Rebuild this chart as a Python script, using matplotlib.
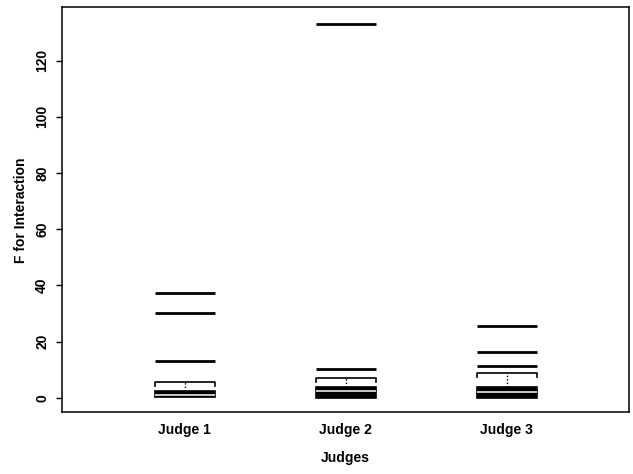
import numpy as np
import matplotlib.pyplot as plt

plt.rcParams['font.family'] = ['Liberation Sans', 'DejaVu Sans']
plt.rcParams['font.weight'] = 'bold'

# box summaries of the interaction F statistic for each judge
judges = ['Judge 1', 'Judge 2', 'Judge 3']
q1 = [0.1, 0.0, 0.0]
medians = [1.0, 2.4, 2.1]
q3 = [2.5, 3.9, 3.7]
upper_whisker = [5.6, 7.0, 8.9]
outliers = [
    [13.2, 30.0, 37.2],
    [10.4, 133.1],
    [11.3, 16.2, 25.6],
]

fig = plt.figure(figsize=(6.33, 4.74), dpi=100)
ax = fig.add_axes([0.0975, 0.130, 0.896, 0.8546])

pos = np.arange(1, len(judges) + 1)
hw = 0.186   # half box width
leg = 1.4    # bracket leg length

for x, a, m, b, hi, out in zip(pos, q1, medians, q3, upper_whisker, outliers):
    ax.bar(x, b - a, bottom=a, width=2 * hw, color='black',
           edgecolor='black', linewidth=1.2, zorder=2)
    ax.hlines(m, x - hw, x + hw, color='white', lw=1.1, zorder=3)
    ax.vlines(x, b, hi, color='black', lw=1.0, linestyles=(0, (1, 1.5)), zorder=2)
    ax.plot([x - hw, x - hw, x + hw, x + hw], [hi - leg, hi, hi, hi - leg],
            color='black', lw=1.2, zorder=2)
    ax.hlines(out, x - hw, x + hw, color='black', lw=2.0, zorder=2)

ax.set_xlim(0.235, 3.76)
ax.set_ylim(-5.2, 139)
ax.set_xticks(pos)
ax.set_xticklabels(judges, fontsize=10, fontweight='bold')
ax.tick_params(axis='x', length=0, pad=8)
ax.set_yticks(np.arange(0, 121, 20))
ax.set_yticklabels([str(v) for v in range(0, 121, 20)], rotation=90,
                   va='center', fontsize=10, fontweight='bold')
ax.tick_params(axis='y', length=4, width=1.0, pad=5)
for s in ax.spines.values():
    s.set_linewidth(1.1)

ax.set_xlabel('Judges', fontsize=10, fontweight='bold', labelpad=10)
ax.set_ylabel('F for Interaction', fontsize=10, fontweight='bold', labelpad=5)

fig.savefig('out.png', dpi=100)
